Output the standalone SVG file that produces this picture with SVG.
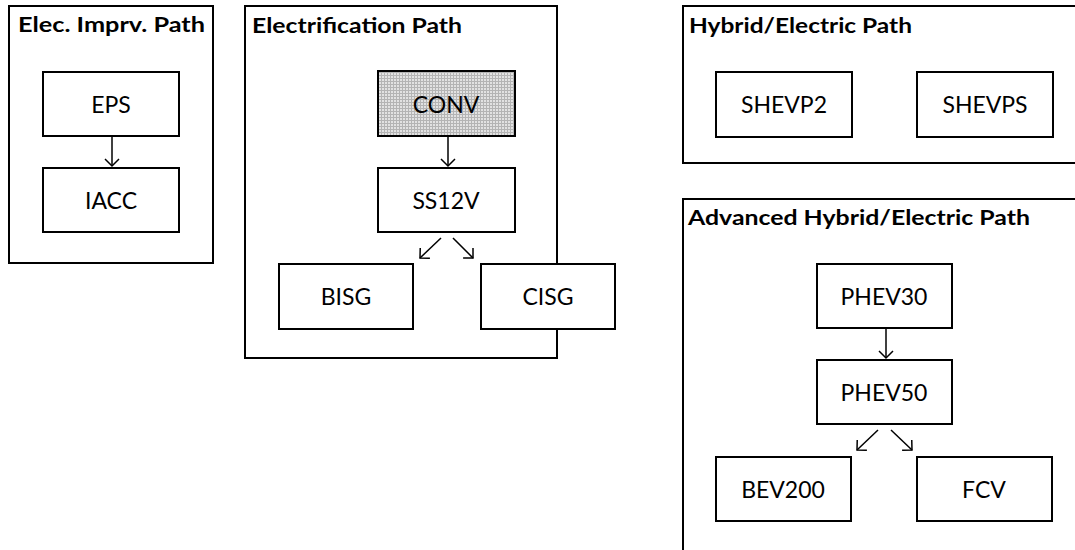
<svg xmlns="http://www.w3.org/2000/svg" width="1075" height="550" viewBox="0 0 1075 550">
  <defs>
    <pattern id="chk" width="3" height="3" patternUnits="userSpaceOnUse">
      <rect width="3" height="3" fill="#e2e2e2"/>
      <rect x="0" y="0" width="3" height="1" fill="#b4b4b4"/>
      <rect x="0" y="0" width="1" height="3" fill="#b4b4b4"/>
    </pattern>
    <marker id="arr" markerUnits="userSpaceOnUse" markerWidth="20" markerHeight="20" viewBox="-10 -10 20 20" refX="0" refY="0" orient="auto">
      <path d="M-7,-7 L0,0 L-7,7" fill="none" stroke="#000" stroke-width="1.5"/>
    </marker>
    <style>
      .panel { fill: #fff; stroke: #000; stroke-width: 2; }
      .node { fill: #fff; stroke: #000; stroke-width: 2; }
      .title { font-family: Lato, "Liberation Sans", sans-serif; font-weight: bold; font-size: 21px; fill: #000; }
      .lbl { font-family: Lato, "Liberation Sans", sans-serif; font-size: 23px; fill: #000; text-anchor: middle; dominant-baseline: central; }
      .conn { stroke: #000; stroke-width: 1.5; fill: none; marker-end: url(#arr); }
    </style>
  </defs>
  <rect width="1075" height="550" fill="#fff"/>

  <g id="panel-elec-imprv">
    <rect class="panel" x="9" y="6" width="204" height="257"/>
    <text class="title" x="18" y="32" textLength="187" lengthAdjust="spacingAndGlyphs">Elec. Imprv. Path</text>
  </g>
  <g id="panel-electrification">
    <rect class="panel" x="245" y="6" width="312" height="352"/>
    <text class="title" x="252" y="33" textLength="210" lengthAdjust="spacingAndGlyphs">Electrification Path</text>
  </g>
  <g id="panel-hybrid">
    <rect class="panel" x="683" y="6" width="400" height="157"/>
    <text class="title" x="689" y="33" textLength="223" lengthAdjust="spacingAndGlyphs">Hybrid/Electric Path</text>
  </g>
  <g id="panel-adv-hybrid">
    <rect class="panel" x="683" y="199" width="400" height="360"/>
    <text class="title" x="688" y="225" textLength="342" lengthAdjust="spacingAndGlyphs">Advanced Hybrid/Electric Path</text>
  </g>

  <g id="node-EPS"><rect class="node" x="43" y="72" width="136" height="64"/><text class="lbl" x="111" y="104">EPS</text></g>
  <g id="node-IACC"><rect class="node" x="43" y="168" width="136" height="64"/><text class="lbl" x="111" y="200">IACC</text></g>

  <g id="node-CONV"><rect class="node" x="378" y="71" width="137" height="65" style="fill:url(#chk)"/><text class="lbl" x="446" y="104">CONV</text></g>
  <g id="node-SS12V"><rect class="node" x="378" y="168" width="137" height="64"/><text class="lbl" x="446" y="200">SS12V</text></g>
  <g id="node-BISG"><rect class="node" x="279" y="264" width="134" height="65"/><text class="lbl" x="346" y="296">BISG</text></g>
  <g id="node-CISG"><rect class="node" x="481" y="264" width="134" height="65"/><text class="lbl" x="548" y="296">CISG</text></g>

  <g id="node-SHEVP2"><rect class="node" x="716" y="72" width="136" height="65"/><text class="lbl" x="784" y="104">SHEVP2</text></g>
  <g id="node-SHEVPS"><rect class="node" x="917" y="72" width="136" height="65"/><text class="lbl" x="985" y="104">SHEVPS</text></g>

  <g id="node-PHEV30"><rect class="node" x="817" y="264" width="135" height="64"/><text class="lbl" x="884" y="296">PHEV30</text></g>
  <g id="node-PHEV50"><rect class="node" x="817" y="360" width="135" height="64"/><text class="lbl" x="884" y="392">PHEV50</text></g>
  <g id="node-BEV200"><rect class="node" x="716" y="457" width="135" height="64"/><text class="lbl" x="783" y="489">BEV200</text></g>
  <g id="node-FCV"><rect class="node" x="917" y="457" width="135" height="64"/><text class="lbl" x="984" y="489">FCV</text></g>

  <g id="connectors">
    <line class="conn" x1="112" y1="136" x2="112" y2="166"/>
    <line class="conn" x1="448" y1="136" x2="448" y2="166"/>
    <line class="conn" x1="441" y1="238" x2="420" y2="258"/>
    <line class="conn" x1="453" y1="238" x2="473" y2="258"/>
    <line class="conn" x1="886" y1="328" x2="886" y2="358"/>
    <line class="conn" x1="878" y1="430" x2="857" y2="450"/>
    <line class="conn" x1="891" y1="430" x2="912" y2="450"/>
  </g>
</svg>
